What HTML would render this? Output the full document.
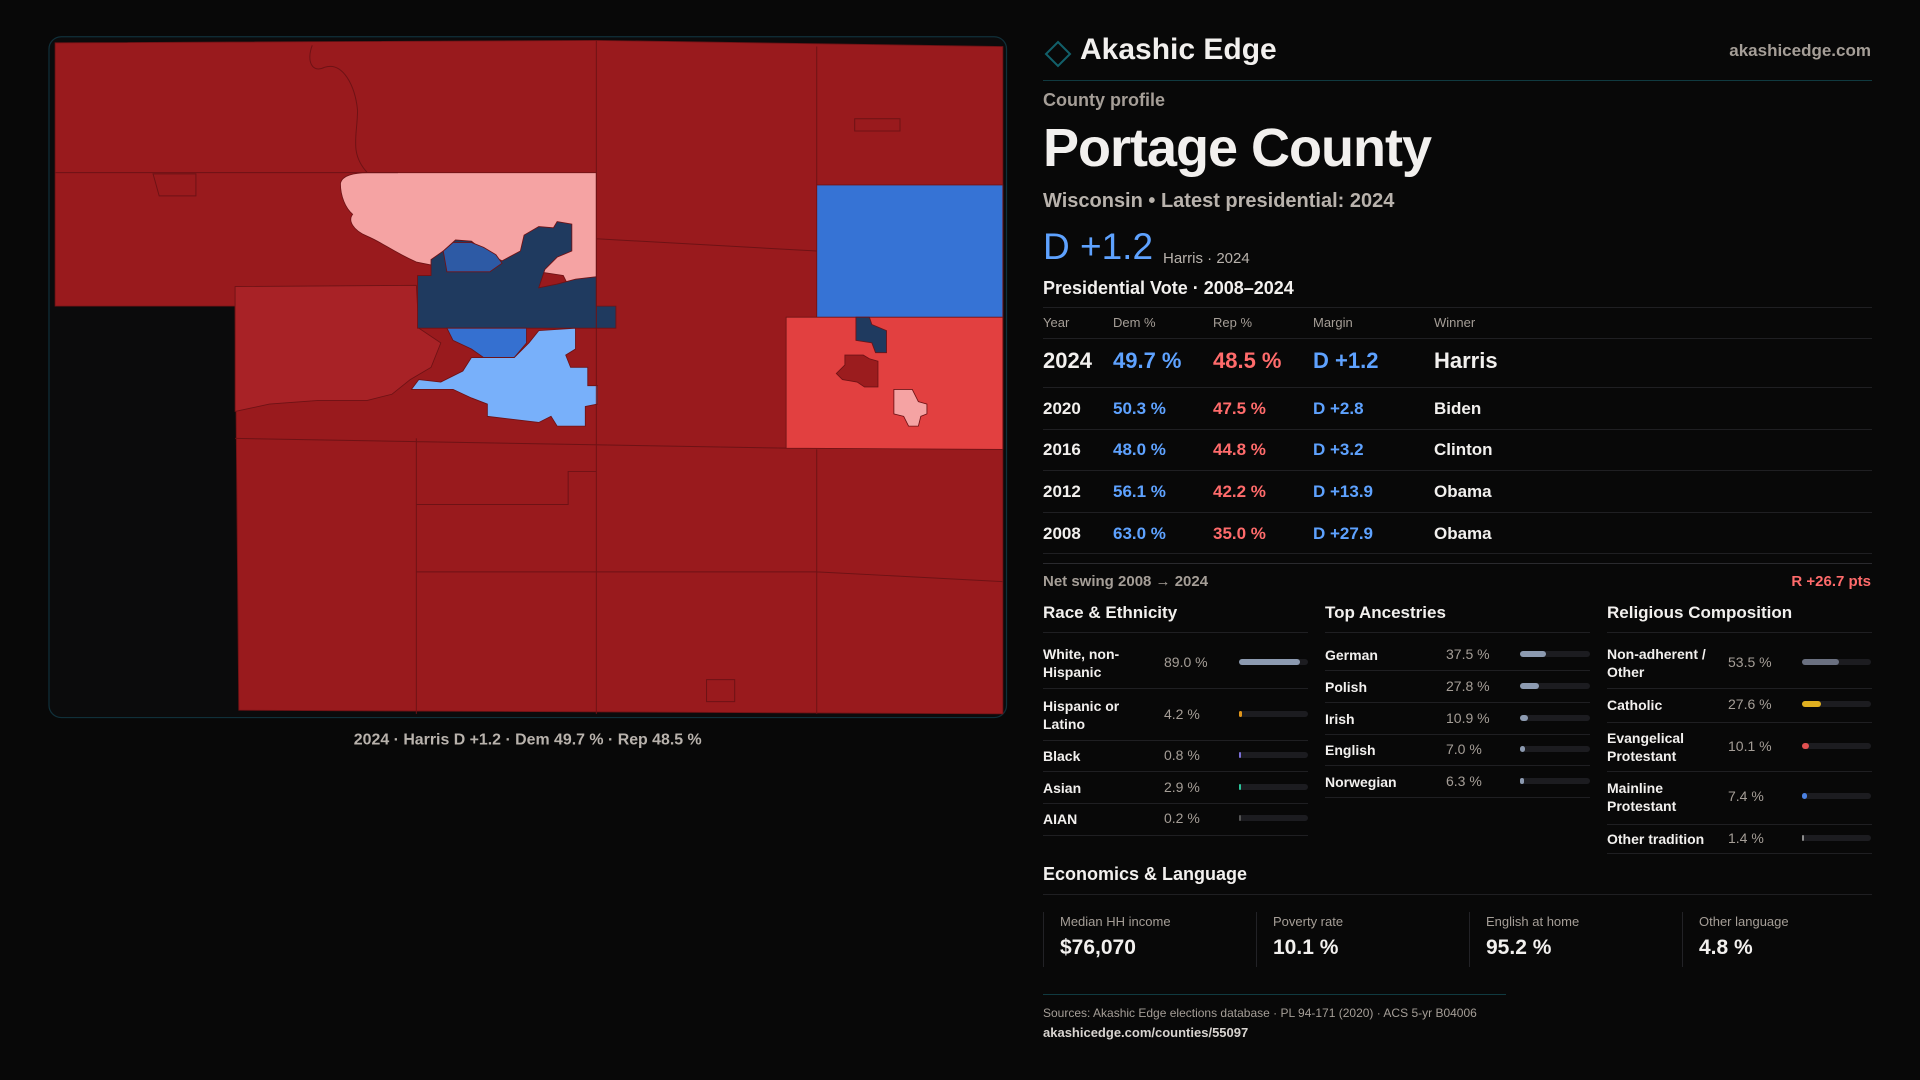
<!DOCTYPE html>
<html><head><meta charset="utf-8">
<style>
*{margin:0;padding:0;box-sizing:border-box}
body{width:1920px;height:1080px;background:#080808;font-family:"Liberation Sans",sans-serif;color:#f2f0ee;position:relative;overflow:hidden}
.a{position:absolute;white-space:nowrap;line-height:1}
.g{color:#a59e97}
.line{position:absolute;height:1px;background:#1f1f22}
.b{font-weight:bold}
.dem{color:#5ea2ff}.rep{color:#ff6b6b}
</style></head><body>
<svg style="position:absolute;left:0;top:0" width="1920" height="1080" viewBox="0 0 1568 882">
<rect x="40" y="30" width="782" height="556" rx="10" fill="#0b0b0c" stroke="#10303a" stroke-width="1"/>
<g stroke="#6e1215" stroke-width="0.7">
<path d="M45,35 L487,33 L819,38 L819,583 L195,580 L192,250 L45,250 Z" fill="#991a1d"/>
<path d="M192,234 L340,233 L342,268 L360,280 L352,300 L335,310 L320,322 L300,327 L260,327 L220,330 L192,336 Z" fill="#a82226"/>
<path d="M278,150 C279,143 290,141 300,141 L487,141 L487,250 L470,245 L460,225 L440,222 L360,218 L340,214 C320,205 312,198 300,193 C288,188 284,180 288,175 C282,170 278,160 278,150 Z" fill="#f5a3a3"/>
<path d="M341,225 L352,225 L352,212 L362,205 L372,196 L385,197 L395,205 L410,213 L425,205 L428,192 L440,185 L452,186 L455,181 L467,183 L467,205 L455,210 L445,220 L440,235 L455,232 L470,228 L487,226 L487,250 L503,250 L503,268 L341,268 Z" fill="#1f3a5f"/>
<path d="M362,205 L370,198 L385,198 L395,202 L405,208 L410,215 L400,222 L365,222 Z" fill="#2d5aa5"/>
<path d="M365,268 L430,268 L430,280 L420,292 L395,292 L385,285 L370,278 Z" fill="#3570d0"/>
<path d="M385,292 L420,292 L432,280 L440,270 L470,268 L470,285 L462,290 L466,300 L480,300 L480,315 L488,315 L488,330 L478,332 L478,348 L455,348 L450,340 L440,345 L398,340 L398,330 L385,325 L370,318 L336,318 L342,310 L360,312 L378,303 Z" fill="#78b0fa"/>
<path d="M667,151 L819,151 L819,260 L667,260 Z" fill="#3673d5"/>
<path d="M642,259 L819,259 L819,367 L642,366 Z" fill="#e24040"/>
<path d="M699,259 L710,259 L712,265 L724,270 L724,288 L715,288 L712,280 L699,278 Z" fill="#1f3a5f"/>
<path d="M690,290 L705,290 L710,293 L717,295 L717,316 L706,316 L700,312 L688,310 L683,305 L690,298 Z" fill="#9b1c1e"/>
<path d="M730,318 L745,318 L750,328 L757,330 L757,338 L752,340 L750,348 L742,348 L738,340 L730,338 Z" fill="#f5a3a3"/>
</g>
<g stroke="#6e1215" stroke-width="0.8" fill="none">
<path d="M45,141 L325,141 M487,33 L487,583 M667,38 L667,151 M667,367 L667,583 M487,195 L667,205 M192,358 L642,366 M340,358 L340,583 M340,412 L464,412 L464,385 L487,385 M340,467 L667,467 L819,475 M255,37 C250,50 255,60 265,55 C280,50 290,70 292,90 C292,110 285,125 300,141 M698,97 L735,97 L735,107 L698,107 Z M125,142 L160,142 L160,160 L130,160 Z M577,555 L600,555 L600,573 L577,573 Z"/>
</g>
<text x="431" y="608" text-anchor="middle" font-family="Liberation Sans" font-size="13" font-weight="bold" fill="#b8b2ac">2024 · Harris D +1.2 · Dem 49.7 % · Rep 48.5 %</text>
</svg>

<svg style="position:absolute;left:1044px;top:40px" width="28" height="28"><path d="M14,2 L26,14 L14,26 L2,14 Z" fill="none" stroke="#12606a" stroke-width="2"/></svg>
<div class="a b" style="left:1080px;top:35px;font-size:30px">Akashic Edge</div>
<div class="a g b" style="right:49px;top:42px;font-size:17px">akashicedge.com</div>
<div class="line" style="left:1043px;width:829px;top:80px;background:#103a40"></div>
<div class="a g b" style="left:1043px;top:91px;font-size:18px">County profile</div>
<div class="a b" style="left:1043px;top:121px;font-size:54px;letter-spacing:-1px">Portage County</div>
<div class="a b" style="left:1043px;top:191px;font-size:20px;color:#b8b2ac">Wisconsin • Latest presidential: 2024</div>
<div class="a dem" style="left:1043px;top:228px;font-size:37px">D +1.2</div>
<div class="a" style="left:1163px;top:251px;font-size:15px;color:#b8b2ac">Harris · 2024</div>
<div class="a b" style="left:1043px;top:279px;font-size:18px">Presidential Vote · 2008–2024</div>
<div id="tbl"></div>
<div class="a g b" style="left:1043px;top:574px;font-size:15px">Net swing 2008 → 2024</div>
<div class="a rep b" style="right:49px;top:574px;font-size:15px">R +26.7 pts</div>
<div id="demo"></div>
<div class="a b" style="left:1043px;top:865px;font-size:18px">Economics &amp; Language</div>
<div class="line" style="left:1043px;width:829px;top:894px"></div>
<div id="econ"></div>
<div class="line" style="left:1043px;width:463px;top:994px;background:#103a40"></div>
<div class="a g" style="left:1043px;top:1007px;font-size:12px">Sources: Akashic Edge elections database · PL 94-171 (2020) · ACS 5-yr B04006</div>
<div class="a b" style="left:1043px;top:1026px;font-size:13px;color:#d8d4d0">akashicedge.com/counties/55097</div>

<script>
const years=["2024","2020","2016","2012","2008"];
const demPct=[49.7,50.3,48.0,56.1,63.0];
const repPct=[48.5,47.5,44.8,42.2,35.0];
const margins=["D +1.2","D +2.8","D +3.2","D +13.9","D +27.9"];
const winners=["Harris","Biden","Clinton","Obama","Obama"];
const raceLabels=["White, non-\nHispanic","Hispanic or\nLatino","Black","Asian","AIAN"];
const raceValues=[89.0,4.2,0.8,2.9,0.2];
const ancLabels=["German","Polish","Irish","English","Norwegian"];
const ancValues=[37.5,27.8,10.9,7.0,6.3];
const relLabels=["Non-adherent /\nOther","Catholic","Evangelical\nProtestant","Mainline\nProtestant","Other tradition"];
const relValues=[53.5,27.6,10.1,7.4,1.4];
const econLabels=["Median HH income","Poverty rate","English at home","Other language"];
const econValues=["$76,070","10.1 %","95.2 %","4.8 %"];

function mk(parent,cls,style,text){const d=document.createElement('div');d.className=cls;d.style.cssText=style;if(text!==undefined)d.textContent=text;parent.appendChild(d);return d;}
const tbl=document.getElementById('tbl');
const hdr=["Year","Dem %","Rep %","Margin","Winner"];const cx=[1043,1113,1213,1313,1434];
[307,338].forEach(y=>mk(tbl,'line','left:1043px;width:829px;top:'+y+'px'));
hdr.forEach((h,i)=>{const e=mk(tbl,'a g','left:'+cx[i]+'px;top:316px;font-size:13px',h);

});
const rowY=[361,408,449,491,533];const lineY=[387,429,470,512,553];
years.forEach((y,i)=>{const fs=i===0?22:17;const top=rowY[i]-fs/2;
const vals=[y,demPct[i].toFixed(1)+' %',repPct[i].toFixed(1)+' %',margins[i],winners[i]];
const cls=['a b','a b dem','a b rep','a b dem','a b'];
vals.forEach((v,j)=>{const e=mk(tbl,cls[j],'left:'+cx[j]+'px;top:'+top+'px;font-size:'+fs+'px',v);

});
mk(tbl,'line','left:1043px;width:829px;top:'+lineY[i]+'px');});
mk(tbl,'line','left:1043px;width:829px;top:563px;background:#2a2a2e');

const demo=document.getElementById('demo');
function section(title,x,labels,vals,colors,rowsY,linesY,pctX,barX,barW,name){
const t=mk(demo,'a b','left:'+x+'px;top:604px;font-size:17px',title);


mk(demo,'line','left:'+x+'px;width:265px;top:632px');
labels.forEach((l,i)=>{const lines=l.split('\n');const h=lines.length*18;
const lab=mk(demo,'a b','left:'+x+'px;top:'+(rowsY[i]-h/2+1)+'px;font-size:14px;line-height:18px;white-space:pre',l);


const p=mk(demo,'a g','left:'+pctX+'px;top:'+(rowsY[i]-7)+'px;font-size:14px',vals[i].toFixed(1)+' %');


const tr=mk(demo,'a','left:'+barX+'px;top:'+(rowsY[i]-3)+'px;width:'+barW+'px;height:6px;border-radius:3px;background:#1c1c20');


const f=mk(tr,'a','left:0;top:0;height:6px;border-radius:3px;width:'+Math.max(2,vals[i]/100*barW)+'px;background:'+colors[i]);


mk(demo,'line','left:'+x+'px;width:265px;top:'+linesY[i]+'px');});}
section("Race & Ethnicity",1043,raceLabels,raceValues,["#8c9ab0","#e0951a","#7b6fd6","#2bc59a","#555"],[662,714,755,787,818],[688,740,771,803,835],1164,1239,69,'race');
section("Top Ancestries",1325,ancLabels,ancValues,["#8c9ab0","#8c9ab0","#8c9ab0","#8c9ab0","#8c9ab0"],[654,686,718,749,781],[670,702,734,765,797],1446,1520,70,'ancestry');
section("Religious Composition",1607,relLabels,relValues,["#6a7080","#e0b020","#e05050","#4a80e0","#8c8c8c"],[662,704,746,796,838],[688,722,771,824,853],1728,1802,69,'religion');

const econ=document.getElementById('econ');
econLabels.forEach((l,i)=>{const x=1043+i*213;
const box=mk(econ,'a','left:'+x+'px;top:912px;width:213px;height:55px;border-left:1px solid #222226');


mk(box,'a g','left:16px;top:3px;font-size:13px',l);
mk(box,'a b','left:16px;top:25px;font-size:21px',econValues[i]);});
</script>
</body></html>
